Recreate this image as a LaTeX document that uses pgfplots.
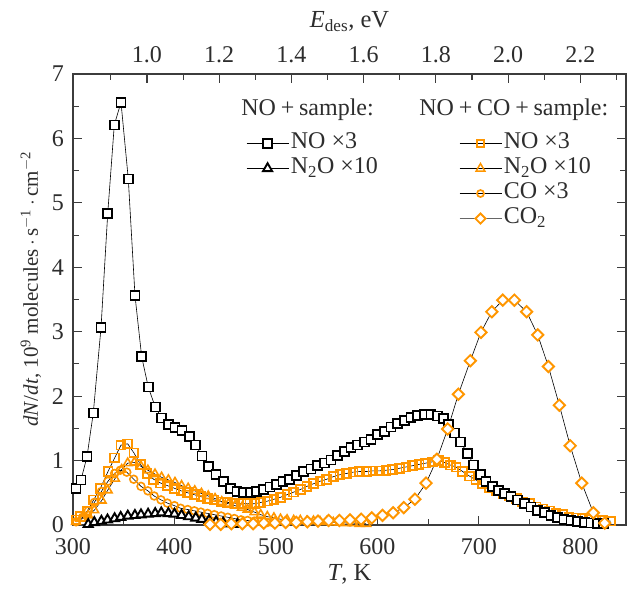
\documentclass[border=0pt]{standalone}
\usepackage{fontspec}
\setmainfont{Liberation Serif}
\usepackage{pgfplots}
\pgfplotsset{compat=1.18}
\definecolor{myor}{RGB}{255,150,0}
\definecolor{axgray}{RGB}{60,60,60}
\definecolor{txgray}{RGB}{45,45,45}
\newcommand\cf{\fontsize{24}{28}\selectfont}
\newcommand\lf{\fontsize{24.5}{29}\selectfont}
\newcommand\yf{\fontsize{21}{25}\selectfont}
\newcommand\tf{\fontsize{24}{28}\selectfont}

\pgfplotstableread{
T y
303 0.57
307.9 0.70
313.8 1.06
320 1.74
327.6 3.06
334.2 4.83
340.7 6.21
347.3 6.56
354.5 5.37
361.1 3.56
367.7 2.61
374.2 2.14
381.1 1.83
387.4 1.66
394 1.56
400.5 1.51
407.5 1.47
414.6 1.37
421 1.24
427.1 1.07
433.7 0.91
441 0.78
448.5 0.67
455 0.57
461.6 0.52
468 0.50
474.8 0.50
481 0.52
487.5 0.55
494 0.59
500.5 0.63
507 0.67
513.6 0.71
520.5 0.77
527.5 0.83
534.5 0.87
541 0.92
547.7 0.96
554.2 1.01
561 1.08
567.4 1.14
574 1.20
580.5 1.24
587 1.29
593.6 1.33
600.3 1.40
606.8 1.45
613.4 1.52
620 1.58
626.5 1.62
633.1 1.67
639.6 1.70
646.2 1.71
652.8 1.71
659.4 1.69
665 1.65
670 1.56
675.8 1.43
681.7 1.29
689 1.11
695 0.93
701.4 0.78
707 0.67
713.6 0.60
719.5 0.54
725 0.49
731.8 0.44
738.3 0.39
744.8 0.33
751.4 0.28
758 0.23
764.5 0.19
771 0.15
777.7 0.12
784 0.09
790.8 0.07
797.4 0.05
804 0.04
810.6 0.03
817 0.02
823 0.02
}\noA

\pgfplotstableread{
T y
315 0.01
321 0.04
328 0.06
334 0.08
341 0.10
347 0.12
354 0.14
361 0.15
367 0.16
374 0.17
381 0.18
387 0.19
394 0.18
400 0.17
407 0.15
414 0.13
421 0.11
427 0.09
434 0.07
441 0.05
448 0.03
455 0.02
462 0.01
}\ntoA

\pgfplotstableread{
T y
303 0.08
307 0.13
313.8 0.21
320.4 0.39
327 0.57
334.5 0.83
341 1.04
347.3 1.24
353.9 1.26
360 1.12
366.5 0.94
373 0.80
379.5 0.71
386.5 0.65
393.3 0.61
400 0.57
406.4 0.53
413 0.50
419.6 0.47
426 0.44
432.7 0.41
439 0.39
445.9 0.36
452.5 0.35
459 0.34
465.6 0.33
472 0.33
478.8 0.33
485 0.35
491.5 0.37
498 0.40
504.5 0.43
511 0.47
517.5 0.51
524 0.55
530.5 0.60
537 0.64
543.5 0.68
550 0.71
556.5 0.75
563 0.78
569.5 0.80
576 0.82
582.5 0.83
589 0.83
595.5 0.84
602 0.84
608.5 0.85
615 0.86
621.5 0.88
628 0.90
634.5 0.92
641 0.94
647.5 0.96
654 0.98
660 1.00
666 0.97
672 0.93
677.5 0.90
684 0.83
690.6 0.76
697 0.70
703.7 0.64
710 0.58
717 0.53
723.6 0.49
730 0.45
736.9 0.41
743.2 0.36
750 0.33
756.3 0.28
763 0.25
769.4 0.22
776 0.18
782.6 0.16
789 0.12
795.8 0.11
802 0.10
808.9 0.08
815.5 0.08
822 0.07
830 0.06
}\noB

\pgfplotstableread{
T y
303 0.05
309.6 0.10
315 0.15
321 0.23
328.3 0.38
334.2 0.54
341.4 0.72
348 0.86
353.9 0.96
360.4 0.97
367 0.91
373.8 0.85
380.8 0.79
387.3 0.74
394 0.70
400.5 0.66
407 0.61
413.5 0.57
420 0.53
426.6 0.49
433.3 0.45
440 0.41
446.6 0.36
453.2 0.33
459.7 0.30
466.4 0.27
472 0.24
478.8 0.20
485 0.16
491.5 0.13
498 0.11
504.5 0.09
511 0.08
517.5 0.07
524 0.07
530.5 0.06
537 0.06
543.5 0.05
550 0.05
556.5 0.04
563 0.04
569.5 0.03
576 0.03
582.5 0.02
589 0.02
}\ntoB

\pgfplotstableread{
T y
303 0.05
309.6 0.12
315 0.22
321 0.35
328 0.52
334.5 0.68
341 0.80
346.6 0.85
353 0.82
359.8 0.71
367 0.60
373.8 0.53
380 0.45
386.7 0.39
393 0.34
400 0.30
406 0.26
413 0.24
419.6 0.22
426 0.20
432.6 0.18
439.3 0.16
446 0.14
452.5 0.12
459 0.10
465.6 0.08
472 0.07
478.8 0.06
485 0.05
491.5 0.04
498 0.03
}\coB

\pgfplotstableread{
T y
435 0.01
445.6 0.01
456 0.02
467 0.02
477.6 0.02
488 0.03
499 0.03
509.5 0.04
520 0.04
531 0.05
541.5 0.06
552 0.07
562.6 0.07
573 0.08
584 0.09
594.5 0.11
605 0.15
615.5 0.19
626 0.27
637 0.40
648 0.65
658.6 1.02
669.3 1.49
679.8 2.03
691.6 2.55
702 2.99
712.7 3.31
723.5 3.49
735 3.49
747 3.31
758 2.95
768.5 2.46
779.3 1.86
790 1.23
801.4 0.65
812.8 0.19
824 0.03
}\cotwoB

\begin{document}
\begin{tikzpicture}
\pgfplotsset{
  common/.style={
    scale only axis, width=553pt, height=451pt,
    ymin=0, ymax=7,
    tick align=inside,
    major tick length=9pt, minor tick length=6pt,
    axis line style={axgray, line width=1.3pt},
    tick style={axgray, line width=1.1pt},
    tick label style={font=\tf, text=txgray},
    label style={font=\lf, text=txgray},
    /pgf/number format/assume math mode=true,
    legend image code/.code={\draw[mark repeat=2,mark phase=2] plot coordinates {(0pt,0pt) (21pt,0pt) (42pt,0pt)};},
    legend style={draw=none, fill=none, font=\cf, text=txgray, anchor=north west, row sep=0pt,
      inner xsep=0pt, inner ysep=0pt,
      nodes={text height=16.5pt, text depth=6.5pt, inner ysep=1pt}},
    legend cell align=left,
  },
  blk/.style={black, line width=0.6pt},
}
\begin{axis}[common, name=main,
  xmin=300, xmax=845,
  xtick={300,400,...,800}, minor xtick={350,450,550,650,750},
  ytick={0,1,...,7}, minor ytick={0.5,1.5,...,6.5},
  xtick pos=left, ytick pos=both,
  xticklabel style={anchor=base, yshift=-30pt},
  yticklabel style={anchor=east, inner sep=0pt, xshift=-9pt},
  xlabel={\textit{T}, K},
  ylabel={\textit{dN}/\textit{dt}, 10\textsuperscript{9} molecules\,$\cdot$\,s\textsuperscript{$-$1}\,$\cdot$\,cm\textsuperscript{$-$2}},
  xlabel style={at={(axis description cs:0.5,-0.124)}, anchor=base},
  ylabel style={at={(axis description cs:-0.076,0.523)}, anchor=center, font=\yf},
  legend style={at={(rel axis cs:0.313,0.874)}},
]
\addplot[blk, forget plot, mark=square, mark size=4.4pt, mark options={myor, line width=1.8pt}] table {\noB};
\addplot[blk, forget plot, mark=triangle, mark size=5pt, mark options={myor, line width=1.6pt}] table {\ntoB};
\addplot[blk, forget plot, mark=o, mark size=3.9pt, mark options={myor, line width=1.6pt}] table {\coB};
\addplot[blk, mark=square*, mark size=4.5pt, mark options={draw=black, fill=white, line width=1.7pt}] table {\noA};
\addlegendentry{NO ×3}
\addplot[blk, mark=triangle*, mark size=5.3pt, mark options={draw=black, fill=white, line width=1.9pt}] table {\ntoA};
\addlegendentry{N\textsubscript{2}O ×10}
\addplot[blk, forget plot, mark=square*, mark size=4pt, mark options={draw=myor, fill=white, line width=1.9pt, rotate=45}] table {\cotwoB};
\node[anchor=base west, font=\cf, text=txgray] at (rel axis cs:0.298,0.907) {NO\hspace{0.2em}+\hspace{0.2em}sample:};
\node[anchor=base west, font=\cf, text=txgray] at (rel axis cs:0.620,0.907) {NO\hspace{0.2em}+\hspace{0.2em}CO\hspace{0.2em}+\hspace{0.2em}sample:};
\end{axis}
\begin{axis}[common,
  xmin=0.7952, xmax=2.3265,
  axis x line*=top, axis y line=none,
  xtick={1,1.2,1.4,1.6,1.8,2,2.2},
  minor xtick={0.9,1.1,1.3,1.5,1.7,1.9,2.1,2.3},
  xticklabel style={anchor=base, yshift=11pt, /pgf/number format/.cd, fixed, fixed zerofill, precision=1},
  xlabel={\textit{E}\textsubscript{des}, eV},
  xlabel style={at={(axis description cs:0.5,1.102)}, anchor=base},
  legend style={at={(rel axis cs:0.698,0.874)}},
]
\addlegendimage{blk, mark=square, mark size=3.5pt, mark options={myor, line width=1.7pt}}
\addlegendentry{NO ×3}
\addlegendimage{blk, mark=triangle, mark size=5pt, mark options={myor, line width=1.5pt}}
\addlegendentry{N\textsubscript{2}O ×10}
\addlegendimage{blk, mark=o, mark size=3.5pt, mark options={myor, line width=1.7pt}}
\addlegendentry{CO ×3}
\addlegendimage{black!60, line width=0.6pt, mark=square*, mark size=3.6pt, mark options={draw=myor, fill=white, line width=1.9pt, rotate=45}}
\addlegendentry{CO\textsubscript{2}}
\end{axis}
\path ([shift={(-73pt,-65pt)}]main.south west) rectangle ([shift={(2pt,74pt)}]main.north east);
\end{tikzpicture}
\end{document}
